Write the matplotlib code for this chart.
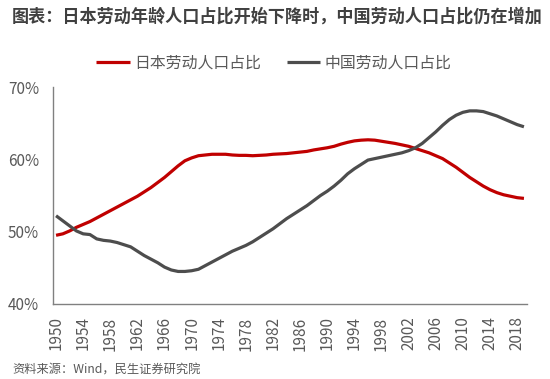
import matplotlib
matplotlib.use("Agg")
import matplotlib.pyplot as plt
import numpy as np

plt.rcParams['font.family'] = ['Noto Sans CJK SC', 'DejaVu Sans']

years = list(range(1950, 2020))
japan = [49.5, 49.7, 50.1, 50.6, 51.0, 51.4, 51.9, 52.4, 52.9, 53.4,
         53.9, 54.4, 54.9, 55.5, 56.1, 56.8, 57.5, 58.3, 59.1, 59.8,
         60.2, 60.5, 60.6, 60.7, 60.7, 60.7, 60.6, 60.55, 60.55, 60.5,
         60.55, 60.6, 60.7, 60.75, 60.8, 60.9, 61.0, 61.1, 61.3, 61.45,
         61.6, 61.8, 62.1, 62.35, 62.55, 62.65, 62.7, 62.65, 62.5, 62.35,
         62.2, 62.0, 61.8, 61.5, 61.2, 60.9, 60.5, 60.1, 59.5, 58.9,
         58.2, 57.5, 56.9, 56.3, 55.8, 55.4, 55.1, 54.9, 54.7, 54.6]
china = [52.2, 51.5, 50.8, 50.1, 49.7, 49.6, 49.0, 48.8, 48.7, 48.5,
         48.2, 47.9, 47.3, 46.7, 46.2, 45.7, 45.1, 44.7, 44.5, 44.5,
         44.6, 44.8, 45.3, 45.8, 46.3, 46.8, 47.3, 47.7, 48.1, 48.6,
         49.2, 49.8, 50.4, 51.1, 51.8, 52.4, 53.0, 53.6, 54.3, 55.0,
         55.6, 56.3, 57.1, 58.0, 58.7, 59.3, 59.9, 60.1, 60.3, 60.5,
         60.7, 60.9, 61.2, 61.6, 62.2, 63.0, 63.8, 64.7, 65.5, 66.1,
         66.5, 66.7, 66.7, 66.6, 66.3, 66.0, 65.6, 65.2, 64.8, 64.5]
tick_years = list(range(1950, 2020, 4))
y_ticks = [40, 50, 60, 70]
series_names = ['日本劳动人口占比', '中国劳动人口占比']
title = '图表：日本劳动年龄人口占比开始下降时，中国劳动人口占比仍在增加'
source = '资料来源：Wind，民生证券研究院'

W, H = 550, 379
fig = plt.figure(figsize=(W / 100, H / 100), dpi=100)
ax = fig.add_axes([53 / W, 1 - 304 / H, (527 - 53) / W, (304 - 87) / H])

ax.plot(years, japan, color='#C00000', lw=2.3, solid_capstyle='butt', label=series_names[0])
ax.plot(years, china, color='#4D4D4D', lw=2.3, solid_capstyle='butt', label=series_names[1])

ax.set_xlim(1949.55, 2019.45)
ax.set_ylim(40, 70)
ax.set_yticks(y_ticks)
ax.set_yticklabels([f'{v}%' for v in y_ticks])
ax.set_xticks(tick_years)
ax.set_xticklabels([str(y) for y in tick_years], rotation=90)

for s in ['top', 'right']:
    ax.spines[s].set_visible(False)
for s in ['left', 'bottom']:
    ax.spines[s].set_color('#808080')
    ax.spines[s].set_linewidth(1.0)
ax.tick_params(axis='both', length=0, colors='#595959', labelsize=11)
ax.tick_params(axis='y', pad=10)
ax.tick_params(axis='x', pad=9)

leg = ax.legend(loc='center', bbox_to_anchor=(274 / W, 1 - 63 / H), bbox_transform=fig.transFigure,
                ncol=2, frameon=False, fontsize=11.4, handlelength=2.1, handletextpad=0.3,
                columnspacing=1.6, labelcolor='#595959')

fig.text(12 / W, 1 - 17 / H, title, fontsize=12.3, fontweight='bold', color='#404040',
         va='center', ha='left')
fig.text(12 / W, 1 - 370 / H, source, fontsize=8.8, color='#595959', va='center', ha='left')

fig.savefig('out.png', dpi=100)
